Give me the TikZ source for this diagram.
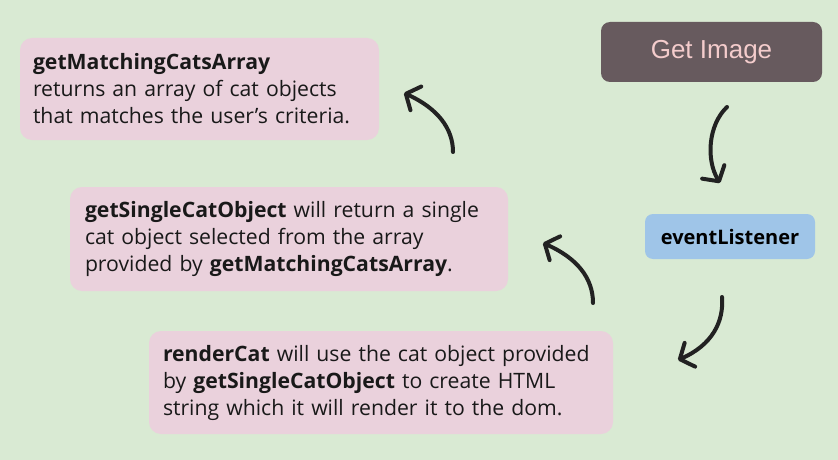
\documentclass[tikz,border=0pt]{standalone}
\usepackage{fontspec}
\setmainfont{Open Sans}
\newfontfamily\arialfont{Liberation Sans}
\usetikzlibrary{arrows.meta}
\definecolor{bgc}{HTML}{D9EAD3}
\definecolor{pinkc}{HTML}{EAD1DC}
\definecolor{bluec}{HTML}{9FC5E8}
\definecolor{darkc}{HTML}{675A5E}
\definecolor{lightpink}{HTML}{F4CCCC}
\definecolor{inkc}{HTML}{222222}
\tikzset{
  infobox/.style={fill=pinkc, rounded corners=12pt, align=left, inner xsep=0pt, inner ysep=0pt,
    font=\fontsize{21.2}{27}\selectfont, text=black!90},
  flowarrow/.style={draw=inkc, line width=4pt, line cap=round,
    -{Straight Barb[length=11pt, width=26pt, line width=4pt, round]}},
}
\begin{document}
\begin{tikzpicture}[x=1pt,y=-1pt]
\fill[bgc] (0,0) rectangle (838,460);
\useasboundingbox (0,0) rectangle (838,460);

\node[infobox, minimum width=359pt, minimum height=102pt, text width=333pt] (arr) at (199.5,89)
 {\textbf{getMatchingCatsArray}\\returns an array of cat objects\\that matches the user’s criteria.};
\node[infobox, minimum width=438pt, minimum height=104pt, text width=408pt] (single) at (289,239)
 {\textbf{getSingleCatObject} will return a single\\cat object selected from the array\\provided by \textbf{getMatchingCatsArray}.};
\node[infobox, minimum width=464pt, minimum height=103pt, text width=436pt] (render) at (381,382.5)
 {\textbf{renderCat} will use the cat object provided\\by \textbf{getSingleCatObject} to create HTML\\string which it will render it to the dom.};

\node[fill=darkc, rounded corners=9pt, minimum width=221pt, minimum height=60pt, text=lightpink,
  font=\arialfont\fontsize{26}{30}\selectfont] (get) at (711.5,52) {Get Image};
\node[fill=bluec, rounded corners=8pt, minimum width=170pt, minimum height=45pt,
  font=\bfseries\fontsize{20}{22}\selectfont] (listen) at (730,236.5) {eventListener};

\coordinate (a1s) at (727,107); \coordinate (a1e) at (720,183);
\coordinate (a2s) at (722,297); \coordinate (a2e) at (678,360);
\coordinate (a3s) at (593,303); \coordinate (a3e) at (543,243);
\coordinate (a4s) at (453,152); \coordinate (a4e) at (404,93);

\draw[flowarrow] (a1s) .. controls (708,125) and (706,160) .. (a1e);
\draw[flowarrow] (a2s) .. controls (724,322) and (712,345) .. (a2e);
\draw[flowarrow] (a3s) .. controls (593,278) and (577,258) .. (a3e);
\draw[flowarrow] (a4s) .. controls (453,128) and (437,108) .. (a4e);
\end{tikzpicture}
\end{document}
